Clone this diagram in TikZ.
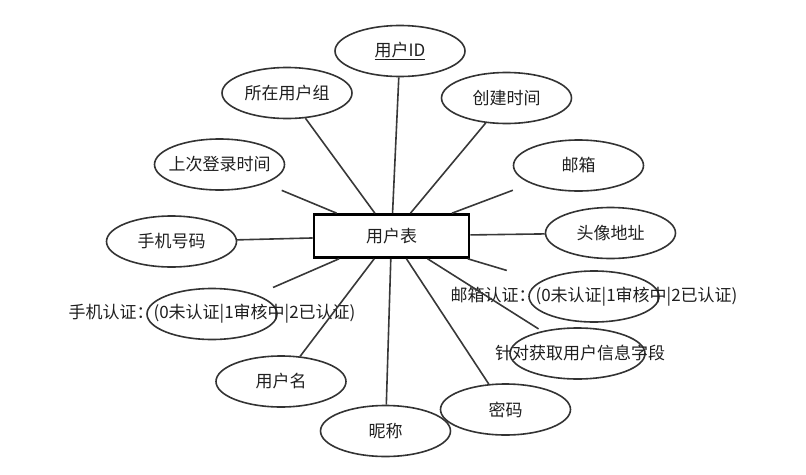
\documentclass[tikz,border=0pt]{standalone}
\usepackage{fontspec}
\setmainfont{Noto Sans CJK SC}
\usetikzlibrary{shapes.geometric}
\newcommand{\lbl}[1]{\makebox[0pt]{#1}}

\begin{document}
\begin{tikzpicture}[x=1pt, y=-1pt, font=\fontsize{17}{20}\selectfont, text=black!88,
    attr/.style={ellipse, draw=black!80, line width=1.6pt, minimum width=130pt, minimum height=51pt, inner sep=0pt},
    link/.style={draw=black!78, line width=1.6pt}]
  \useasboundingbox (0,0) rectangle (806,474);
  \node[draw=black, line width=2.6pt, minimum width=155pt, minimum height=43pt, inner sep=0pt] (tbl) at (391.5,236) {用户表};
  \foreach \n/\x/\y/\t in {uid/400/51/{\underline{用户ID}}, grp/287/93/{所在用户组}, login/219.5/164.5/{上次登录时间},
      ctime/506.5/98/{创建时间}, mail/578.5/165.5/{邮箱}, avatar/610.5/233/{头像地址}, phone/171.5/241.5/{手机号码},
      uname/281/381.5/{用户名}, nick/385.5/431/{昵称}, pwd/505.5/409.5/{密码},
      phv/212/314/{手机认证：(0未认证|1审核中|2已认证)}, mailv/594/296.5/{邮箱认证：(0未认证|1审核中|2已认证)}}{
      \node[attr] (\n) at (\x,\y) {\lbl{\t}}; }
  \node[attr, minimum width=135pt] (info) at (577.5,353.5) {\lbl{\hspace*{5pt}针对获取用户信息字段}};
  % some links stop short of their ellipse
  \foreach \n/\s in {uid/0pt, grp/0pt, login/18pt, ctime/0pt, mail/19pt, avatar/0pt, phone/0pt,
      phv/18pt, uname/0pt, nick/0pt, pwd/0pt, info/4pt, mailv/36pt}{
      \draw[link, shorten >=\s] (tbl) -- (\n); }
\end{tikzpicture}
\end{document}
